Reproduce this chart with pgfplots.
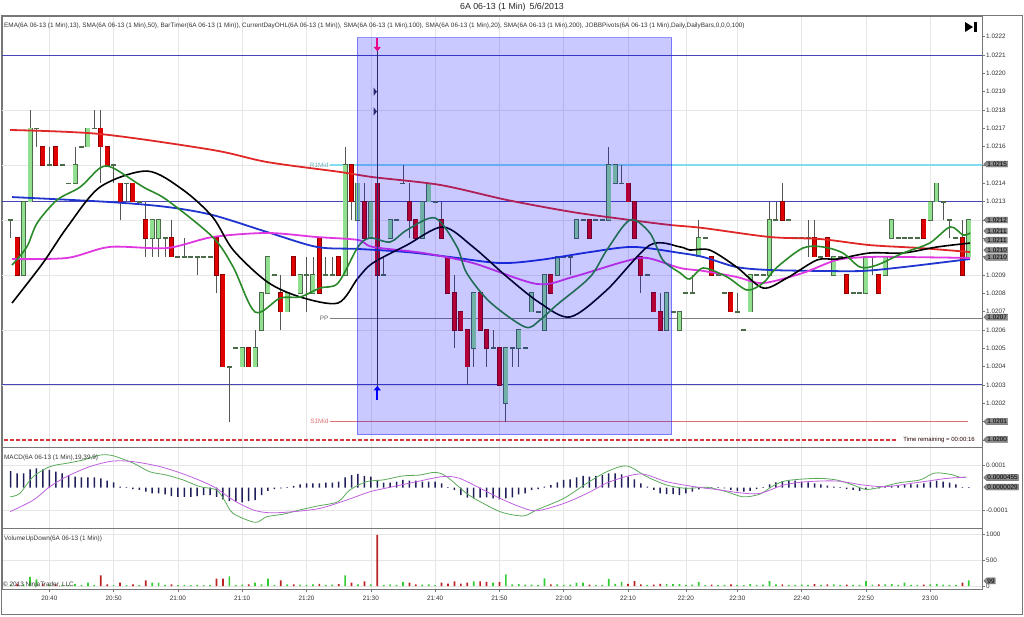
\documentclass[border=0pt]{standalone}
\usepackage{pgfplots}
\pgfplotsset{compat=1.18}
\usepackage{pgfplotstable}
\usepackage{fontspec}
\setmainfont{Liberation Sans}
\usetikzlibrary{arrows.meta,shapes.symbols}

\definecolor{upfill}{HTML}{90E090}
\definecolor{updraw}{HTML}{4A6A4A}
\definecolor{dnfill}{HTML}{E00000}
\definecolor{dndraw}{HTML}{8A0000}
\definecolor{wickc}{HTML}{555555}
\definecolor{sma200}{HTML}{E02828}
\definecolor{sma100}{HTML}{2035D0}
\definecolor{sma20}{HTML}{E038E0}
\definecolor{ema13}{HTML}{2A8A2A}
\definecolor{pivblue}{HTML}{4545B5}
\definecolor{r1c}{HTML}{7FDDEE}
\definecolor{s1c}{HTML}{E07070}
\definecolor{framec}{HTML}{777777}
\definecolor{gridc}{HTML}{E6E6E6}
\definecolor{boxc}{HTML}{8C8C8C}
\definecolor{histc}{HTML}{1E1E5A}
\definecolor{macdg}{HTML}{5AAA5A}
\definecolor{macdm}{HTML}{C060E0}
\definecolor{volg}{HTML}{33CC33}
\definecolor{volr}{HTML}{BB2222}
\definecolor{navyc}{HTML}{2A2A70}
\definecolor{lowred}{HTML}{D83838}

\newcommand\tfont{\fontsize{6.4}{7}\selectfont}
\newcommand\sfont{\fontsize{6.4}{7}\selectfont}

\pgfplotstableread{
x o h l c
-6 12 12 11 12
-4 9 13 9 13
-3 13 18 13 17
-2 17 17 16 17
0 15 16 15 15
2 15 15 15 15
3 14 14 14 14
4 14 16 14 15
5 16 16 16 16
6 16 17 16 17
7 17 18 17 17
10 15 15 14 15
12 14 14 13 14
14 13 13 13 13
16 11 12 10 12
17 11 12 10 12
18 11 11 10 11
20 10 10 10 10
21 10 11 10 10
22 10 10 10 10
23 10 10 9 10
24 10 10 10 10
25 10 10 10 10
28 4 4 1 4
29 5 5 5 5
30 4 5 4 5
32 4 6 4 5
33 6 8 6 8
34 8 10 8 10
35 9 9 9 9
37 7 8 7 8
39 8 9 8 9
40 9 10 7 9
41 8 10 8 9
43 9 10 9 9
44 9 10 9 9
46 9 16 9 15
48 12 14 12 14
50 11 13 11 13
52 9 10 9 9
53 11 12 11 12
54 12 12 12 12
55 14 15 14 14
58 11 13 11 13
59 13 14 13 14
60 13 13 13 13
66 5 8 4 8
69 5 6 5 5
71 2 5 1 5
72 5 5 4 5
73 5 6 4 6
74 5 5 5 5
75 7 8 7 8
76 7 7 7 7
77 6 9 6 9
79 9 10 9 10
80 10 10 10 10
81 10 10 9 10
82 11 12 11 12
83 12 12 12 12
85 12 12 12 12
86 12 12 12 12
87 12 16 12 15
88 14 15 14 15
89 14 15 14 14
93 9 9 9 9
96 6 8 6 8
97 7 7 7 7
98 6 7 6 7
99 8 8 8 8
100 8 9 8 8
101 10 12 10 11
102 11 11 11 11
104 9 9 9 9
105 8 8 8 8
107 7 8 7 7
108 6 6 6 6
109 7 9 7 9
110 9 9 9 9
111 9 9 9 9
112 9 13 9 12
113 12 13 12 12
115 12 12 12 12
116 11 11 11 11
117 11 11 11 11
118 11 12 10 11
120 10 10 10 10
122 9 10 9 10
123 10 10 10 10
125 8 8 8 8
126 8 8 8 8
127 8 10 8 10
128 10 10 9 10
130 9 10 9 10
131 11 12 11 12
132 11 11 11 11
133 11 11 11 11
134 11 11 11 11
135 11 11 11 11
137 12 13 12 13
138 13 14 13 14
139 13 13 12 13
140 12 12 11 12
141 11 11 11 11
143 10 12 10 12
}\candup

\pgfplotstableread{
x o h l c
-5 11 11 9 9
-1 16 16 15 15
1 16 16 15 15
8 17 18 14 16
9 16 16 15 15
11 14 14 12 13
13 14 14 13 13
15 12 13 10 11
19 11 12 10 10
26 11 11 8 9
27 9 9 4 4
31 5 5 4 4
36 8 9 6 7
38 10 10 9 9
42 11 11 8 8
45 10 10 9 9
47 15 15 12 13
49 13 14 11 11
51 14 14 9 9
56 13 14 11 12
57 12 12 11 11
61 12 13 11 11
62 10 10 8 8
63 8 9 5 6
64 7 7 6 6
65 6 6 3 4
67 8 8 6 6
68 6 6 4 5
70 5 5 3 3
78 9 9 8 8
84 12 12 11 11
90 14 14 13 13
91 13 13 11 11
92 10 10 8 9
94 8 8 7 7
95 7 8 6 6
103 10 10 9 9
106 8 8 7 7
114 13 14 12 12
119 11 12 10 10
121 11 11 10 10
124 9 9 8 8
129 9 9 8 8
136 12 12 11 11
142 11 12 9 9
}\canddn

\pgfplotstableread{
x y
-6.1 16.91
7.9 16.69
25.4 15.82
33.9 15.16
45.2 14.62
50.3 14.34
60.8 13.91
71.2 13.09
81.4 12.43
90.3 12.00
96.5 11.73
101.7 11.56
112.1 11.07
119.9 10.96
127.6 10.63
135.4 10.47
143.2 10.25
}\tred

\pgfplotstableread{
x y
-5.8 13.25
9.4 12.98
18.3 12.71
25.4 12.27
33.9 11.34
41.6 10.53
48.0 10.42
55.6 10.25
62.3 9.98
70.1 9.65
76.3 9.82
84.1 10.25
90.8 10.53
98.1 10.20
101.7 9.98
106.9 9.43
112.1 9.27
119.9 9.22
126.5 9.22
132.8 9.43
143.2 9.87
}\tblue

\pgfplotstableread{
x y
-5.8 9.87
2.8 9.93
9.4 10.53
18.3 10.47
25.4 11.07
33.9 11.29
41.6 11.07
48.0 10.91
50.3 10.53
58.1 10.20
65.9 9.65
75.8 8.51
81.4 8.89
89.2 9.71
92.9 9.93
98.1 9.38
101.7 9.22
106.9 8.89
111.0 8.56
117.2 9.11
122.5 9.82
127.6 9.98
132.8 9.98
143.2 9.93
}\tmag

\pgfplotstableread{
x y
-5.8 7.47
-1.0 9.65
2.8 11.62
7.9 13.80
15.2 14.67
20.8 13.64
25.4 12.16
28.6 10.36
33.9 8.62
39.0 7.80
44.9 7.47
48.0 8.83
50.3 9.65
55.6 10.63
61.2 11.62
65.9 10.53
71.2 8.89
76.3 7.47
81.0 6.71
86.7 8.18
93.4 10.63
98.1 10.53
99.6 10.36
102.7 10.36
106.9 9.43
111.0 8.29
114.7 8.83
119.4 9.82
122.5 9.87
127.6 10.20
132.8 10.20
138.1 10.53
143.2 10.74
}\tblack

\pgfplotstableread{
x y
-5.8 9.54
-3.5 10.53
-1.9 11.83
1.2 13.09
4.8 13.80
7.9 14.84
9.9 14.84
14.6 13.80
18.3 13.09
25.4 11.07
28.6 9.43
32.0 6.98
35.9 7.74
39.0 7.80
42.1 8.29
44.9 8.56
48.0 10.53
49.9 11.02
53.0 10.80
55.6 11.45
60.0 12.11
63.4 10.53
64.9 9.11
68.5 7.53
74.0 6.16
76.3 6.54
78.9 7.36
84.1 8.89
86.7 10.36
90.3 12.00
93.4 11.29
95.4 9.82
98.1 9.11
99.6 8.78
101.7 9.38
105.4 8.89
108.5 8.18
111.0 8.56
113.2 9.43
117.2 10.47
120.3 10.53
123.4 10.20
126.1 9.43
128.7 9.54
132.8 10.20
136.9 10.74
140.1 11.62
142.1 11.18
143.2 11.29
}\tgreen

\pgfplotstableread{
x v
-6 0.75
-5 0.65
-4 0.65
-3 0.83
-2 0.87
-1 0.83
0 0.80
1 0.72
2 0.65
3 0.57
4 0.50
5 0.47
6 0.47
7 0.47
8 0.42
9 0.32
10 0.24
11 0.05
12 0.03
13 -0.06
14 -0.10
15 -0.18
16 -0.26
17 -0.26
18 -0.30
19 -0.38
20 -0.41
21 -0.41
22 -0.41
23 -0.38
24 -0.33
25 -0.33
26 -0.41
27 -0.53
28 -0.60
29 -0.63
30 -0.66
31 -0.60
32 -0.56
33 -0.33
34 -0.14
35 -0.06
36 -0.03
37 0.03
38 0.08
39 0.15
40 0.20
41 0.20
42 0.20
43 0.23
44 0.23
45 0.27
46 0.47
47 0.57
48 0.62
49 0.53
50 0.50
51 0.35
52 0.23
53 0.23
54 0.27
55 0.35
56 0.32
57 0.32
58 0.27
59 0.27
60 0.27
61 0.20
62 0.03
63 -0.10
64 -0.33
65 -0.45
66 -0.48
67 -0.45
68 -0.44
69 -0.48
70 -0.53
71 -0.48
72 -0.44
73 -0.30
74 -0.26
75 -0.10
76 -0.06
77 0.05
78 0.12
79 0.24
80 0.35
81 0.38
82 0.47
83 0.53
84 0.50
85 0.53
86 0.57
87 0.65
88 0.65
89 0.60
90 0.50
91 0.38
92 0.20
93 0.05
94 -0.10
95 -0.26
96 -0.29
97 -0.29
98 -0.33
99 -0.26
100 -0.18
101 -0.08
102 -0.03
103 0.03
104 0.03
105 -0.03
106 -0.10
107 -0.15
108 -0.18
109 -0.14
110 -0.06
111 0.03
112 0.15
113 0.24
114 0.30
115 0.32
116 0.32
117 0.27
118 0.24
119 0.20
120 0.15
121 0.09
122 0.05
123 0.03
124 -0.06
125 -0.10
126 -0.14
127 -0.08
128 -0.03
129 -0.03
130 0.03
131 0.08
132 0.09
133 0.12
134 0.15
135 0.15
136 0.20
137 0.27
138 0.32
139 0.27
140 0.23
141 0.15
142 0.03
143 0.03
}\thist

\pgfplotstableread{
x y
-6.1 -0.41
-4.6 -0.26
-2.5 0.50
0.1 0.95
2.7 1.10
5.3 1.25
7.9 1.47
9.9 1.44
13.1 1.10
15.6 0.72
18.2 0.57
20.8 0.35
23.4 0.05
26.0 -0.10
27.3 -0.60
28.6 -1.16
32.0 -1.56
33.8 -1.31
36.4 -1.19
39.0 -1.00
41.6 -0.83
44.9 -0.63
46.7 -0.11
49.3 0.27
51.9 0.35
55.0 0.53
57.6 0.57
60.0 0.69
61.8 0.50
64.9 -0.26
67.5 -0.71
70.1 -1.08
72.2 -1.23
74.0 -1.26
75.8 -1.00
80.0 -0.48
83.6 0.20
86.7 0.72
89.8 0.98
92.9 0.50
96.0 0.12
99.1 -0.03
102.2 0.02
105.3 -0.18
107.9 -0.41
110.5 -0.29
112.6 0.09
114.7 0.32
119.3 0.42
122.4 0.35
125.0 0.12
127.1 -0.08
129.7 0.05
132.3 0.23
135.4 0.35
137.5 0.65
139.0 0.65
140.6 0.57
141.6 0.47
142.6 0.47
}\tmacd

\pgfplotstableread{
x y
-6.1 -1.08
-2.5 -0.56
0.1 0.05
2.7 0.50
6.3 0.95
9.9 1.20
13.1 1.17
17.2 0.95
21.3 0.57
25.5 0.05
28.6 -0.56
31.7 -1.00
34.3 -1.13
37.9 -1.08
42.1 -0.93
46.2 -0.56
49.9 -0.18
53.5 0.05
57.1 0.27
61.2 0.50
63.8 0.42
67.5 -0.10
70.1 -0.48
73.2 -0.86
75.8 -1.04
80.0 -0.71
83.6 -0.26
87.2 0.27
91.9 0.62
96.0 0.27
100.2 0.05
104.3 -0.10
107.4 -0.23
110.5 -0.26
114.2 0.12
117.8 0.27
122.5 0.30
126.6 0.12
130.2 0.05
134.9 0.23
139.6 0.42
142.6 0.47
}\tsig

\pgfplotstableread{
x v
-6 25
-4 30
-3 175
-2 130
0 25
2 20
3 15
4 40
5 15
6 65
7 20
10 15
12 15
14 15
16 65
17 65
18 20
20 15
21 20
22 15
23 20
24 15
25 15
28 187
29 20
30 25
32 65
33 30
34 142
35 20
37 30
39 25
40 20
41 30
43 20
44 25
46 207
48 30
50 30
52 20
53 30
54 20
55 78
58 25
59 30
60 15
66 90
69 65
71 226
72 30
73 35
74 25
75 25
76 15
77 150
79 30
80 20
81 25
82 65
83 65
85 20
86 20
87 136
88 40
89 80
93 20
96 40
97 35
98 35
99 20
100 25
101 80
102 15
104 15
105 20
107 20
108 15
109 35
110 20
111 25
112 95
113 30
115 20
116 20
117 25
118 20
120 20
122 30
123 20
125 20
126 20
127 95
128 25
130 30
131 35
132 20
133 65
134 20
135 20
137 30
138 40
139 25
140 20
141 20
143 110
}\volup

\pgfplotstableread{
x v
-5 45
-1 45
1 30
8 207
9 30
11 65
13 30
15 110
19 32
26 142
27 142
31 30
36 110
38 30
42 40
45 35
47 65
49 90
51 990
56 65
57 30
61 65
62 45
63 90
64 45
65 65
67 90
68 78
70 78
78 30
84 25
90 40
91 95
92 30
94 25
95 40
103 25
106 30
114 30
119 35
121 30
124 25
129 30
136 25
142 65
}\voldn

\tikzset{
  vbox/.style={signal, signal to=west, fill=boxc, draw=black!60, line width=0.4pt,
    inner sep=0.7pt, font=\tfont, text=black, anchor=west, xshift=1.5pt},
}
\pgfplotsset{
  panel/.style={scale only axis, width=980pt, xmin=-7.36, xmax=145.05,
    axis line style={draw=framec, line width=0.8pt},
    xtick={0,10,20,30,40,50,60,70,80,90,99,107,117,127,137},
    xmajorgrids, major grid style={draw=gridc, line width=0.6pt},
    tick align=outside, ytick pos=right, yticklabel pos=right,
    major tick length=3pt, tick style={draw=framec, line width=0.5pt},
    yticklabel style={font=\tfont, text=black!80, inner sep=1pt},
    clip mode=individual},
  wickp/.style={draw=none, mark=none, forget plot, error bars/.cd, y dir=both, y explicit,
    error mark=none, error bar style={line width=0.8pt, draw=wickc}},
  bodyp/.style 2 args={draw=none, mark=none, forget plot, error bars/.cd, y dir=both, y explicit,
    error mark=none, error bar style={line width=#1, draw=#2}},
}

\begin{document}
\begin{tikzpicture}
\useasboundingbox (0pt,0pt) rectangle (1024pt,616pt);

% ---------------- price panel ----------------
\begin{axis}[panel, at={(2pt,169pt)}, anchor=south west, height=431pt,
  ymin=-0.386, ymax=23.13, ytick={0,1,...,22},
  yticklabels={,,1.0202,1.0203,1.0204,1.0205,1.0206,1.0207,1.0208,1.0209,,,,1.0213,1.0214,,1.0216,1.0217,1.0218,1.0219,1.0220,1.0221,1.0222},
  xticklabels={}, xtick style={draw=none}]
\pgfplotsinvokeforeach{3,6,9,12,15,18}{\draw[gridc, line width=0.6pt] (-7.36,#1) -- (145.05,#1);}
\addplot[pivblue, line width=1pt, forget plot] coordinates {(-7.36,21) (145.05,21)};
\addplot[pivblue, line width=1pt, forget plot] coordinates {(-7.36,13) (145.05,13)};
\addplot[pivblue, line width=1pt, forget plot] coordinates {(-7.36,3) (145.05,3)};
\addplot[r1c, line width=1.3pt, forget plot] coordinates {(43.6,15) (145.05,15)};
\addplot[gray, line width=0.9pt, forget plot] coordinates {(43.6,6.65) (145.05,6.65)};
\addplot[s1c, line width=0.9pt, forget plot] coordinates {(43.6,1) (142.9,1)};
\addplot[lowred, dash pattern=on 4pt off 2pt, line width=1.2pt, forget plot] coordinates {(-7.0,0) (131.8,0)};

% wicks
\addplot[wickp] table[x=x, y expr={(\thisrow{h}+\thisrow{l})/2}, y error expr={(\thisrow{h}-\thisrow{l})/2}] {\candup};
\addplot[wickp] table[x=x, y expr={(\thisrow{h}+\thisrow{l})/2}, y error expr={(\thisrow{h}-\thisrow{l})/2}] {\canddn};
% bodies
\addplot[bodyp={5pt}{updraw}] table[x=x, y expr={(\thisrow{o}+\thisrow{c})/2}, y error expr={abs(\thisrow{c}-\thisrow{o})/2+0.045}] {\candup};
\addplot[bodyp={3.6pt}{upfill}] table[x=x, y expr={(\thisrow{o}+\thisrow{c})/2}, y error expr={abs(\thisrow{c}-\thisrow{o})/2}] {\candup};
\addplot[bodyp={5pt}{dndraw}] table[x=x, y expr={(\thisrow{o}+\thisrow{c})/2}, y error expr={abs(\thisrow{c}-\thisrow{o})/2+0.045}] {\canddn};
\addplot[bodyp={3.6pt}{dnfill}] table[x=x, y expr={(\thisrow{o}+\thisrow{c})/2}, y error expr={abs(\thisrow{c}-\thisrow{o})/2}] {\canddn};

% moving averages
\addplot[sma200, line width=1.8pt, smooth, tension=0.5, forget plot] table {\tred};
\addplot[sma100, line width=1.8pt, smooth, tension=0.5, forget plot] table {\tblue};
\addplot[sma20, line width=1.8pt, smooth, tension=0.5, forget plot] table {\tmag};
\addplot[black, line width=1.6pt, smooth, tension=0.5, forget plot] table {\tblack};
\addplot[ema13, line width=1.6pt, smooth, tension=0.5, forget plot] table {\tgreen};

% shaded region
\fill[blue, fill opacity=0.21] (47.85,0.27) rectangle (96.8,21.93);
\draw[blue!80!white, opacity=0.55, line width=1pt] (47.85,0.27) rectangle (96.8,21.93);

% vertical marker line
\draw[navyc, line width=0.8pt] (51,21.75) -- (51,2.6);
\draw[magenta, line width=2pt, -{Triangle[width=7pt,length=4.5pt]}] (51,21.95) -- (51,21.2);
\draw[blue, line width=2pt, -{Triangle[width=7pt,length=4.5pt]}] (51,2.2) -- (51,2.95);
\fill[navyc] (50.45,19.22) -- (50.95,19.0) -- (50.45,18.78) -- cycle;
\fill[navyc] (50.45,18.14) -- (50.95,17.92) -- (50.45,17.70) -- cycle;

% labels
\node[anchor=east, font=\sfont, text=r1c!80!black, inner sep=1pt] at (43.6,15) {R1Mid};
\node[anchor=east, font=\sfont, text=black!60, inner sep=1pt] at (43.6,6.65) {PP};
\node[anchor=east, font=\sfont, text=s1c, inner sep=1pt] at (43.6,1) {S1Mid};
\node[anchor=east, font=\fontsize{6}{6}\selectfont, text=black!85!red, inner sep=1pt] at (144.1,0.0) {Time remaining = 00:00:16};
\node[anchor=west, font=\sfont, text=black!80, inner sep=0pt] at (rel axis cs:0.002,0.977)
 {EMA(6A 06-13 (1 Min),13), SMA(6A 06-13 (1 Min),50), BarTimer(6A 06-13 (1 Min)), CurrentDayOHL(6A 06-13 (1 Min)), SMA(6A 06-13 (1 Min),100), SMA(6A 06-13 (1 Min),20), SMA(6A 06-13 (1 Min),200), JOBBPivots(6A 06-13 (1 Min),Daily,DailyBars,0,0,0,100)};

% value boxes
\node[vbox] at (145.05,15.05) {1.0215};
\node[vbox] at (145.05,12.0) {1.0212};
\node[vbox] at (145.05,11.4) {1.0211};
\node[vbox] at (145.05,10.9) {1.0211};
\node[vbox] at (145.05,10.35) {1.0210};
\node[vbox] at (145.05,9.95) {1.0210};
\node[vbox] at (145.05,6.7) {1.0207};
\node[vbox] at (145.05,1.0) {1.0201};
\node[vbox] at (145.05,0.02) {1.0200};
\end{axis}

% ---------------- MACD panel ----------------
\begin{axis}[panel, at={(2pt,88pt)}, anchor=south west, height=81pt,
  ymin=-1.815, ymax=1.833, ytick={-1,1}, yticklabels={-0.0001,0.0001}, ymajorgrids,
  xticklabels={}, xtick style={draw=none}]
\addplot[ybar, bar width=1.5pt, bar shift=0pt, fill=histc, draw=none, forget plot] table[x=x, y=v] {\thist};
\addplot[macdg, line width=0.8pt, smooth, tension=0.5, forget plot] table {\tmacd};
\addplot[macdm, line width=0.8pt, smooth, tension=0.5, forget plot] table {\tsig};
\node[anchor=west, font=\sfont, text=black!80, inner sep=0pt] at (rel axis cs:0.002,0.86) {MACD(6A 06-13 (1 Min),19,39,9)};
\node[vbox] at (145.05,0.455) {0.0000455};
\node[vbox] at (145.05,0.029) {0.0000029};
\end{axis}

% ---------------- Volume panel ----------------
\begin{axis}[panel, at={(2pt,26.7pt)}, anchor=south west, height=61.3pt,
  ymin=-64, ymax=1125, ytick={0,500,1000}, yticklabels={0,500,1000}, ymajorgrids,
  xtick pos=bottom, xticklabel pos=bottom,
  xticklabels={20:40,20:50,21:00,21:10,21:20,21:30,21:40,21:50,22:00,22:10,22:20,22:30,22:40,22:50,23:00},
  xticklabel style={font=\tfont, text=black!80}]
\addplot[ybar, bar width=1.7pt, bar shift=0pt, fill=volg, draw=none, forget plot] table[x=x, y=v] {\volup};
\addplot[ybar, bar width=1.7pt, bar shift=0pt, fill=volr, draw=none, forget plot] table[x=x, y=v] {\voldn};
\node[anchor=west, font=\sfont, text=black!80, inner sep=0pt] at (rel axis cs:0.002,0.82) {VolumeUpDown(6A 06-13 (1 Min))};
\node[anchor=west, font=\sfont, text=black!80, inner sep=0pt] at (rel axis cs:0.001,0.075) {© 2013 NinjaTrader, LLC};
\node[vbox] at (145.05,99) {99};
\end{axis}

% frame, title, icon
\draw[framec, line width=0.8pt] (1pt,2pt) rectangle (1022pt,601pt);
\node[font=\fontsize{8.8}{10}\selectfont, text=black!85] at (512pt,608.3pt) {6A 06-13 (1 Min)\hspace{4pt}5/6/2013};
\fill (965pt,584pt) -- (973pt,589pt) -- (965pt,594pt) -- cycle;
\fill (974pt,584pt) rectangle (976.5pt,594pt);
\end{tikzpicture}
\end{document}
